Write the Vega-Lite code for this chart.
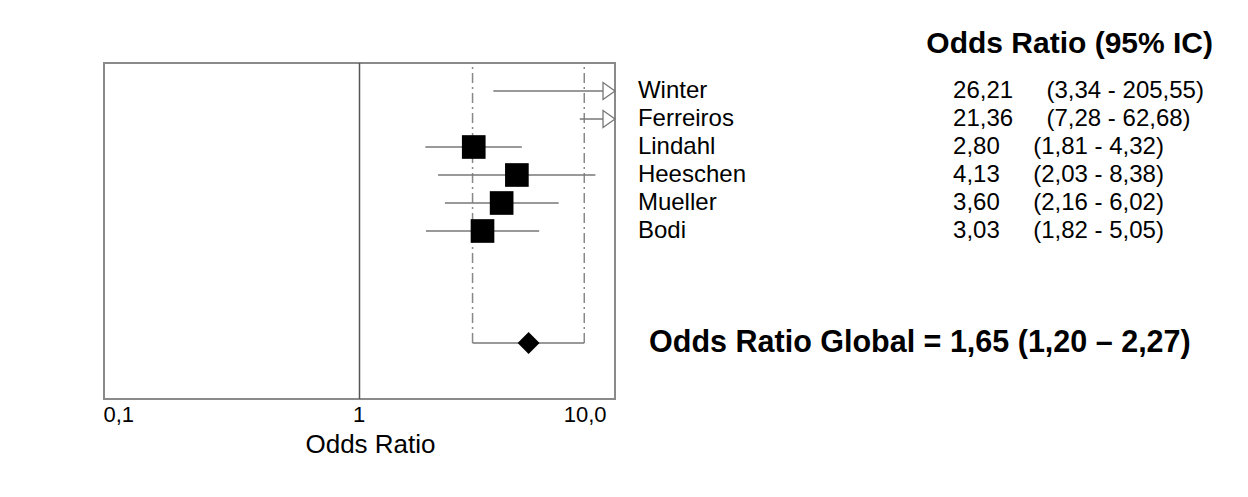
{
  "$schema": "https://vega.github.io/schema/vega-lite/v6.json",
  "padding": {"left": 102, "top": 29, "right": 0, "bottom": 0},
  "bounds": "flush",
  "spacing": 10,
  "background": "white",
  "config": {
    "font": "Liberation Sans",
    "view": {"stroke": "#8a8a8a", "strokeWidth": 2}
  },
  "datasets": {
    "studies": [
      {"study": "Winter", "row": 1, "or": 26.21, "lo": 3.34, "hi": 205.55, "label": "26,21\u00a0\u00a0\u00a0\u00a0\u00a0(3,34 - 205,55)"},
      {"study": "Ferreiros", "row": 2, "or": 21.36, "lo": 7.28, "hi": 62.68, "label": "21,36\u00a0\u00a0\u00a0\u00a0\u00a0(7,28 - 62,68)"},
      {"study": "Lindahl", "row": 3, "or": 2.80, "lo": 1.81, "hi": 4.32, "label": "2,80\u00a0\u00a0\u00a0\u00a0\u00a0(1,81 - 4,32)"},
      {"study": "Heeschen", "row": 4, "or": 4.13, "lo": 2.03, "hi": 8.38, "label": "4,13\u00a0\u00a0\u00a0\u00a0\u00a0(2,03 - 8,38)"},
      {"study": "Mueller", "row": 5, "or": 3.60, "lo": 2.16, "hi": 6.02, "label": "3,60\u00a0\u00a0\u00a0\u00a0\u00a0(2,16 - 6,02)"},
      {"study": "Bodi", "row": 6, "or": 3.03, "lo": 1.82, "hi": 5.05, "label": "3,03\u00a0\u00a0\u00a0\u00a0\u00a0(1,82 - 5,05)"}
    ],
    "global": [
      {"row": 10, "or": 4.59, "lo": 2.77, "hi": 7.58, "label": "Odds Ratio Global = 1,65 (1,20 \u2013 2,27)"}
    ],
    "limits": [
      {"x": 2.77, "row": 10},
      {"x": 7.58, "row": 10}
    ]
  },
  "hconcat": [
    {
      "width": 511,
      "height": 336,
      "layer": [
        {
          "data": {"values": [{"x": 1}]},
          "mark": {"type": "rule", "color": "#555555", "strokeWidth": 1.5},
          "encoding": {
            "x": {"field": "x", "type": "quantitative", "scale": {"type": "log", "domain": [0.1, 10], "nice": false},
              "axis": {
                "values": [0.1, 1, 10],
                "labelExpr": "datum.value < 0.5 ? '0,1' : datum.value < 5 ? '1' : '10,0'",
                "labelFlush": true,
                "labelOffset": {"condition": {"test": "datum.value > 5", "value": -9}, "value": -1},
                "labelFontSize": 22,
                "labelColor": "#000000",
                "labelPadding": 5,
                "ticks": false,
                "domain": false,
                "grid": false,
                "title": "Odds Ratio",
                "titleFontSize": 26,
                "titleFontWeight": "normal",
                "titleColor": "#000000",
                "titlePadding": 6,
                "titleX": 266
              }
            }
          }
        },
        {
          "data": {"name": "limits"},
          "mark": {"type": "rule", "color": "#888888", "strokeWidth": 1.5, "strokeDash": [10, 4, 2, 4]},
          "encoding": {
            "x": {"field": "x", "type": "quantitative"},
            "y": {"field": "row", "type": "quantitative", "scale": {"domain": [0, 12], "reverse": true, "nice": false, "zero": false}, "axis": null},
            "y2": {"datum": 0}
          }
        },
        {
          "data": {"name": "global"},
          "mark": {"type": "rule", "color": "#777777", "strokeWidth": 1.5},
          "encoding": {
            "x": {"field": "lo", "type": "quantitative"},
            "x2": {"field": "hi"},
            "y": {"field": "row", "type": "quantitative"}
          }
        },
        {
          "data": {"name": "studies"},
          "mark": {"type": "rule", "color": "#777777", "strokeWidth": 1.5, "clip": true},
          "encoding": {
            "x": {"field": "lo", "type": "quantitative"},
            "x2": {"field": "hi"},
            "y": {"field": "row", "type": "quantitative"}
          }
        },
        {
          "data": {"name": "studies"},
          "transform": [{"filter": "datum.or <= 10"}],
          "mark": {"type": "point", "shape": "square", "filled": true, "color": "#000000", "size": 560, "opacity": 1},
          "encoding": {
            "x": {"field": "or", "type": "quantitative"},
            "y": {"field": "row", "type": "quantitative"}
          }
        },
        {
          "data": {"name": "studies"},
          "transform": [{"filter": "datum.hi > 10"}],
          "mark": {"type": "point", "shape": "M-1.41,-1L0,0L-1.41,1Z", "filled": true, "fill": "#ffffff", "stroke": "#777777", "strokeWidth": 1.3, "size": 289, "opacity": 1},
          "encoding": {
            "x": {"datum": 10, "type": "quantitative"},
            "y": {"field": "row", "type": "quantitative"}
          }
        },
        {
          "data": {"name": "global"},
          "mark": {"type": "point", "shape": "diamond", "filled": true, "color": "#000000", "size": 480, "opacity": 1},
          "encoding": {
            "x": {"field": "or", "type": "quantitative"},
            "y": {"field": "row", "type": "quantitative"}
          }
        }
      ]
    },
    {
      "width": 588,
      "height": 336,
      "view": {"stroke": null},
      "title": {"text": "Odds Ratio (95% IC)", "anchor": "end", "fontSize": 30, "fontWeight": "bold", "color": "#000000", "offset": 4},
      "layer": [
        {
          "data": {"name": "studies"},
          "mark": {"type": "text", "align": "left", "baseline": "middle", "fontSize": 24, "color": "#000000"},
          "encoding": {
            "x": {"datum": 2.2, "type": "quantitative", "scale": {"domain": [0, 100], "nice": false}, "axis": null},
            "y": {"field": "row", "type": "quantitative", "scale": {"domain": [0, 12], "reverse": true, "nice": false, "zero": false}, "axis": null},
            "text": {"field": "study"}
          }
        },
        {
          "data": {"name": "studies"},
          "mark": {"type": "text", "align": "left", "baseline": "middle", "fontSize": 24, "color": "#000000"},
          "encoding": {
            "x": {"datum": 55.8, "type": "quantitative"},
            "y": {"field": "row", "type": "quantitative"},
            "text": {"field": "label"}
          }
        },
        {
          "data": {"name": "global"},
          "mark": {"type": "text", "align": "left", "baseline": "middle", "fontSize": 30.5, "fontWeight": "bold", "color": "#000000"},
          "encoding": {
            "x": {"datum": 4.1, "type": "quantitative"},
            "y": {"field": "row", "type": "quantitative"},
            "text": {"field": "label"}
          }
        }
      ]
    }
  ]
}
